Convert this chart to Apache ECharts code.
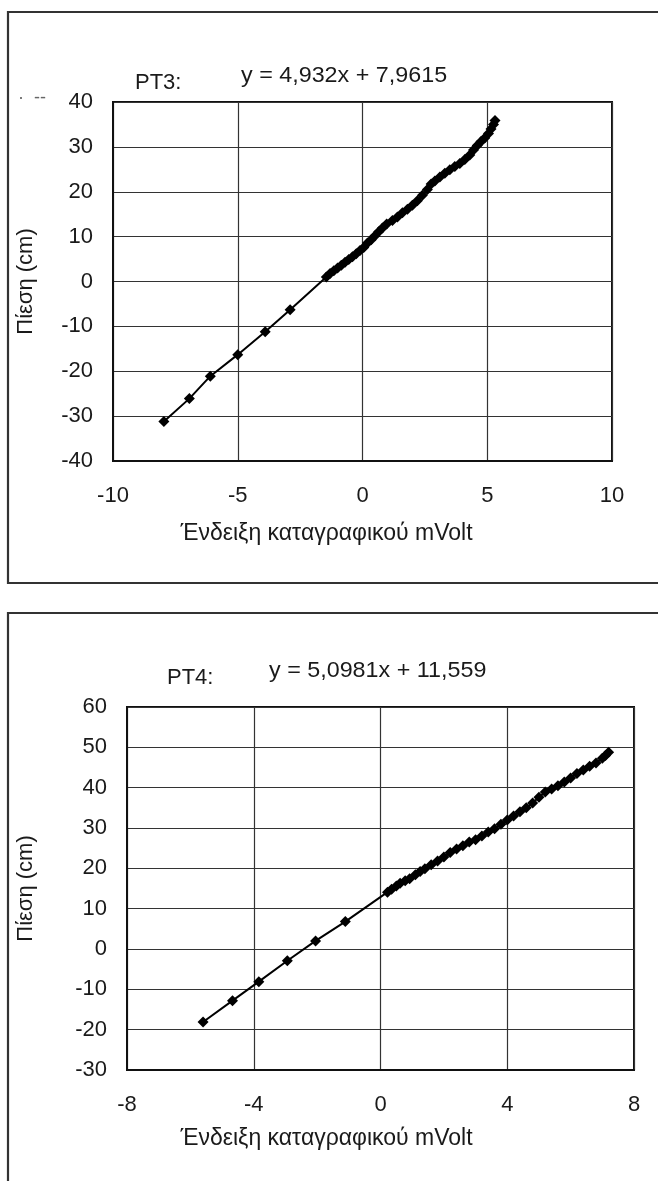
<!DOCTYPE html>
<html>
<head>
<meta charset="utf-8">
<script src="https://cdn.jsdelivr.net/npm/echarts@6/dist/echarts.min.js"></script>
<style>
html,body{margin:0;padding:0;background:#fff;}
#c{width:658px;height:1181px;}
</style>
</head>
<body>
<div id="c"></div>
<script>
// ---- data ----
var pt3X = [-7.96,-6.94,-6.1,-5.0,-3.9,-2.9,-1.45,-1.3,-1.15,-1.0,-0.85,-0.7,-0.55,-0.4,-0.25,-0.1,0.05,0.2,0.35,0.5,0.65,0.8,0.97,1.2,1.4,1.6,1.8,2.0,2.2,2.4,2.6,2.75,2.9,3.1,3.3,3.5,3.7,3.9,4.1,4.3,4.45,4.6,4.75,4.9,5.05,5.15,5.25,5.31];
var pt3Y = [-31.2,-26.1,-21.1,-16.3,-11.2,-6.3,1.0,1.8,2.4,3.0,3.6,4.3,4.9,5.5,6.2,6.9,7.6,8.6,9.3,10.2,11.1,11.9,12.8,13.6,14.4,15.3,16.1,17.0,18.0,19.2,20.5,21.7,22.4,23.3,24.1,24.9,25.6,26.3,27.2,28.2,29.3,30.3,31.2,32.0,33.0,34.0,35.0,35.9];
var pt4X = [-5.6,-4.67,-3.84,-2.94,-2.05,-1.11,0.22,0.35,0.5,0.62,0.78,0.92,1.1,1.25,1.4,1.6,1.8,2.0,2.2,2.4,2.6,2.8,3.0,3.2,3.4,3.6,3.8,4.0,4.2,4.4,4.6,4.8,5.0,5.2,5.4,5.6,5.8,6.0,6.2,6.4,6.6,6.8,7.0,7.1,7.2];
var pt4Y = [-18.1,-12.8,-8.1,-2.9,2.0,6.8,14.1,14.8,15.6,16.3,16.9,17.4,18.4,19.2,19.9,20.9,21.8,22.8,23.9,24.8,25.6,26.5,27.1,28.0,29.0,29.8,30.9,32.0,33.0,34.0,35.0,36.2,37.6,38.9,39.7,40.5,41.4,42.4,43.5,44.4,45.3,46.1,47.3,48.0,48.8];
var pt3Title = 'PT3:';
var pt3Eq = 'y = 4,932x + 7,9615';
var pt4Title = 'PT4:';
var pt4Eq = 'y = 5,0981x + 11,559';
var xName = 'Ένδειξη καταγραφικού mVolt';
var yName = 'Πίεση (cm)';
var pt3XRange = [-10, 10, 5];
var pt3YRange = [-40, 40, 10];
var pt4XRange = [-8, 8, 4];
var pt4YRange = [-30, 60, 10];

function zip(a, b) { return a.map(function (v, i) { return [v, b[i]]; }); }

var FONT = 'Liberation Sans';
var TXT = '#1a1a1a';
var FS = 22;

function xAxis(idx, r, padRight, gap) {
  return {
    type: 'value', gridIndex: idx, min: r[0], max: r[1], interval: r[2],
    axisLine: { show: true, onZero: false, lineStyle: { color: '#111', width: 2 } },
    axisTick: { show: false },
    splitLine: { show: true, lineStyle: { color: '#333', width: 1.2 } },
    axisLabel: { fontFamily: FONT, fontSize: FS, color: TXT, margin: 24 },
    name: xName, nameLocation: 'middle', nameGap: gap,
    nameTextStyle: { fontFamily: FONT, fontSize: 23, color: TXT, padding: [0, padRight, 0, 0] }
  };
}
function yAxis(idx, r, gap) {
  return {
    type: 'value', gridIndex: idx, min: r[0], max: r[1], interval: r[2],
    axisLine: { show: true, onZero: false, lineStyle: { color: '#111', width: 2 } },
    axisTick: { show: false },
    splitLine: { show: true, lineStyle: { color: '#333', width: 1.2 } },
    axisLabel: { fontFamily: FONT, fontSize: FS, color: TXT, margin: 20 },
    name: yName, nameLocation: 'middle', nameGap: gap, nameRotate: 90,
    nameTextStyle: { fontFamily: FONT, fontSize: FS, color: TXT }
  };
}
function series(idx, xs, ys) {
  return {
    type: 'line', xAxisIndex: idx, yAxisIndex: idx,
    data: zip(xs, ys),
    symbol: 'diamond', symbolSize: 11, showSymbol: true,
    lineStyle: { color: '#000', width: 2 },
    itemStyle: { color: '#000' },
    animation: false, silent: true
  };
}
function label(x, y, text, sx, fill, fs) {
  return { type: 'text', left: x, top: y, scaleX: sx || 1,
    style: { text: text, fontFamily: FONT, fontSize: fs || FS, fill: fill || TXT } };
}

var chart = echarts.init(document.getElementById('c'), null, { renderer: 'canvas' });
chart.setOption({
  backgroundColor: '#fff',
  animation: false,
  grid: [
    { left: 113, top: 102, width: 499, height: 359, show: true, borderColor: '#111', borderWidth: 2, containLabel: false },
    { left: 127, top: 707, width: 507, height: 363, show: true, borderColor: '#111', borderWidth: 2, containLabel: false }
  ],
  xAxis: [xAxis(0, pt3XRange, 72, 61), xAxis(1, pt4XRange, 108, 57)],
  yAxis: [yAxis(0, pt3YRange, 76), yAxis(1, pt4YRange, 90)],
  series: [series(0, pt3X, pt3Y), series(1, pt4X, pt4Y)],
  graphic: [
    { type: 'rect', shape: { x: 8, y: 12, width: 670, height: 571 }, style: { fill: 'none', stroke: '#333', lineWidth: 2.2 }, silent: true },
    { type: 'rect', shape: { x: 8, y: 613, width: 670, height: 620 }, style: { fill: 'none', stroke: '#333', lineWidth: 2.2 }, silent: true },
    label(135, 72, pt3Title, 1.0),
    label(241, 65, pt3Eq, 1.06),
    label(167, 667, pt4Title, 1.0),
    label(269, 660, pt4Eq, 1.06),
    label(18, 89, '·  --', 1, '#666', 18)
  ]
});
</script>
</body>
</html>
